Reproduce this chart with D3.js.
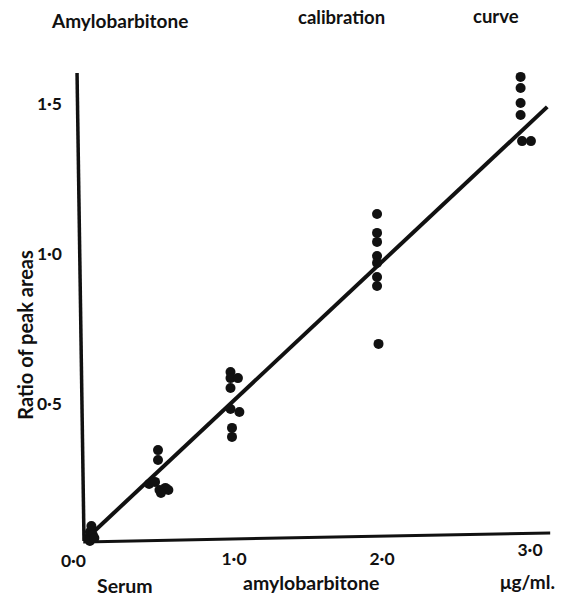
<!DOCTYPE html>
<html>
<head>
<meta charset="utf-8">
<script src="https://cdn.jsdelivr.net/npm/d3@7"></script>
<style>
  body { margin: 0; background: white; }
  text { font-family: Lato, "Open Sans", sans-serif; fill: #111; font-weight: 700; }
</style>
</head>
<body>
<svg id="chart"></svg>
<script>
// Data
var xTicks = [1, 2, 3];
var yTicks = [0.5, 1.0, 1.5];

var serumX = [0.03, 0.04, 0.05, 0.06, 0.04, 0.07];
var serumY = [0.05, 0.07, 0.09, 0.06, 0.04, 0.05];

var halfX = [0.5, 0.5, 0.44, 0.48, 0.51, 0.55, 0.57, 0.52];
var halfY = [0.343, 0.31, 0.23, 0.237, 0.21, 0.217, 0.21, 0.2];

var oneX = [0.99, 0.99, 1.04, 0.99, 0.99, 1.05, 1.0, 1.0];
var oneY = [0.603, 0.583, 0.583, 0.55, 0.48, 0.47, 0.417, 0.387];

var twoX = [1.98, 1.98, 1.98, 1.98, 1.98, 1.98, 1.98, 1.99];
var twoY = [1.13, 1.067, 1.037, 0.99, 0.967, 0.92, 0.89, 0.697];

var threeX = [2.95, 2.95, 2.95, 2.95, 2.96, 3.02];
var threeY = [1.587, 1.55, 1.5, 1.46, 1.373, 1.373];

// fitted calibration line, ends
var fitX = [0.01, 3.13];
var fitY = [0.045, 1.487];

// hand drawn axes (slightly skewed in the print)
var yAxisX = [-0.047, 0];
var yAxisY = [1.6, 0.04];
var xAxisX = [-0.005, 3.15];
var xAxisY = [0.037, 0.067];

// Sizing
var width = 567;
var height = 597;

var svg = d3
  .select("#chart")
  .attr("width", width)
  .attr("height", height)
  .style("background", "white");

var x = d3.scaleLinear().domain([0, 3]).range([84, 528]);
var y = d3.scaleLinear().domain([0, 1.5]).range([553, 103]);

var fmt = function (v) {
  return d3.format(".1f")(v).replace(".", "\u00b7");
};

var line = d3
  .line()
  .x((d) => x(d[0]))
  .y((d) => y(d[1]));

// Axes
svg
  .append("path")
  .attr("d", line(d3.zip(yAxisX, yAxisY)))
  .attr("stroke", "#111")
  .attr("stroke-width", 3.5)
  .attr("fill", "none");

svg
  .append("path")
  .attr("d", line(d3.zip(xAxisX, xAxisY)))
  .attr("stroke", "#111")
  .attr("stroke-width", 3)
  .attr("fill", "none");

// Tick labels
svg
  .selectAll(".xtick")
  .data(xTicks)
  .enter()
  .append("text")
  .attr("class", "xtick")
  .attr("x", (d) => x(d) + 2)
  .attr("y", (d) => (d === 3 ? 556 : 565))
  .attr("text-anchor", "middle")
  .attr("font-size", 17.5)
  .text(fmt);

svg
  .append("text")
  .attr("x", x(0) + 2)
  .attr("y", 567)
  .attr("text-anchor", "end")
  .attr("font-size", 17.5)
  .text(fmt(0));

svg
  .selectAll(".ytick")
  .data(yTicks)
  .enter()
  .append("text")
  .attr("class", "ytick")
  .attr("x", 62)
  .attr("y", (d) => y(d) + 7)
  .attr("text-anchor", "end")
  .attr("font-size", 17.5)
  .text(fmt);

// Fit line
svg
  .append("path")
  .attr("d", line(d3.zip(fitX, fitY)))
  .attr("stroke", "#111")
  .attr("stroke-width", 4)
  .attr("fill", "none");

// Points
var groups = [
  [serumX, serumY],
  [halfX, halfY],
  [oneX, oneY],
  [twoX, twoY],
  [threeX, threeY],
];
var points = [];
groups.forEach(function (g) {
  points = points.concat(d3.zip(g[0], g[1]));
});

svg
  .selectAll(".dot")
  .data(points)
  .enter()
  .append("circle")
  .attr("class", "dot")
  .attr("cx", (d) => x(d[0]))
  .attr("cy", (d) => y(d[1]))
  .attr("r", 5)
  .attr("fill", "#111");

// Titles
svg
  .append("text")
  .attr("x", 52)
  .attr("y", 28)
  .attr("font-size", 19)
  .text("Amylobarbitone");
svg
  .append("text")
  .attr("x", 298)
  .attr("y", 24)
  .attr("font-size", 18.5)
  .text("calibration");
svg
  .append("text")
  .attr("x", 473)
  .attr("y", 23)
  .attr("font-size", 18.5)
  .text("curve");

svg
  .append("text")
  .attr("transform", "translate(33,335) rotate(-90)")
  .attr("text-anchor", "middle")
  .attr("font-size", 20)
  .text("Ratio of peak areas");

svg
  .append("text")
  .attr("x", 97)
  .attr("y", 593)
  .attr("font-size", 19.5)
  .text("Serum");
svg
  .append("text")
  .attr("x", 243)
  .attr("y", 590)
  .attr("font-size", 19.5)
  .text("amylobarbitone");
svg
  .append("text")
  .attr("x", 500)
  .attr("y", 589)
  .attr("font-size", 19)
  .text("\u03bcg/ml.");
</script>
</body>
</html>
